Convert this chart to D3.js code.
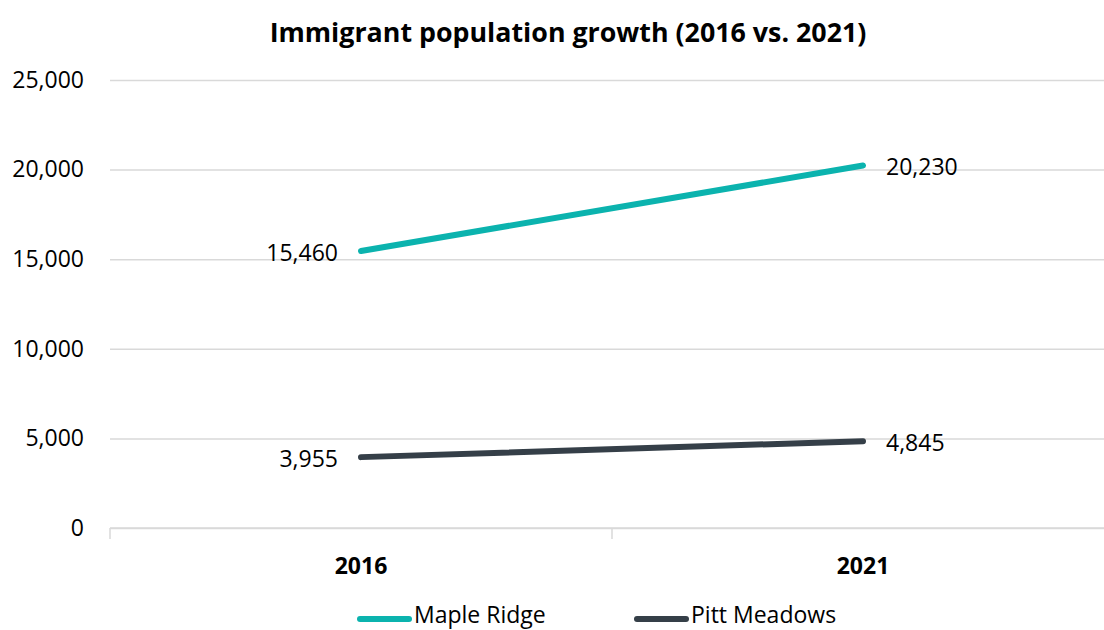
<!DOCTYPE html>
<html>
<head>
<meta charset="utf-8">
<script src="https://cdn.jsdelivr.net/npm/d3@7"></script>
<style>
  html, body { margin: 0; padding: 0; background: #fff; overflow: hidden; }
  svg { display: block; font-family: "Open Sans", "Noto Sans", sans-serif; }
</style>
</head>
<body>
<svg id="chart" width="1104" height="630"></svg>
<script>
// Immigrant population, 2016 and 2021
const years = ["2016", "2021"];
const seriesNames = ["Maple Ridge", "Pitt Meadows"];
const mapleRidge = [15460, 20230];
const pittMeadows = [3955, 4845];
const yTicks = [0, 5000, 10000, 15000, 20000, 25000];
const seriesColors = ["#0BB3AE", "#353F48"];

const title = "Immigrant population growth (2016 vs. 2021)";

const svg = d3.select("#chart");
const W = 1104, H = 630;
const plot = { left: 110, right: 1114, top: 80, bottom: 528 };

const x = d3.scaleBand().domain(years).range([plot.left, plot.right]);
const y = d3.scaleLinear().domain([0, 25000]).range([plot.bottom, plot.top]);
const fmt = d3.format(",");

// title
svg.append("text")
  .attr("x", 568).attr("y", 31)
  .attr("text-anchor", "middle").attr("dominant-baseline", "central")
  .attr("font-weight", "bold").attr("font-size", 26.8).attr("fill", "#000")
  .text(title);

// horizontal gridlines + y labels
const yAxis = d3.axisLeft(y).tickValues(yTicks).tickFormat(fmt)
  .tickSize(-(W - plot.left)).tickPadding(26);
const gy = svg.append("g").attr("transform", `translate(${plot.left},0)`).call(yAxis);
gy.select(".domain").remove();
gy.selectAll(".tick line").attr("stroke", "#d9d9d9").attr("stroke-width", 1.5);
gy.selectAll(".tick text")
  .attr("font-size", 23).attr("fill", "#000")
  .attr("font-family", "\"Open Sans\", sans-serif");

// category axis with band boundary ticks
const gx = svg.append("g").attr("transform", `translate(0,${plot.bottom})`);
gx.append("line")
  .attr("x1", plot.left).attr("x2", W)
  .attr("stroke", "#d9d9d9").attr("stroke-width", 1.5);
const boundaries = years.map(d => x(d)).concat([x(years[years.length - 1]) + x.bandwidth()]);
gx.selectAll("line.tk").data(boundaries).join("line").attr("class", "tk")
  .attr("x1", d => d).attr("x2", d => d).attr("y1", 0).attr("y2", 11)
  .attr("stroke", "#d9d9d9").attr("stroke-width", 1.5);
gx.selectAll("text.cat").data(years).join("text").attr("class", "cat")
  .attr("x", d => x(d) + x.bandwidth() / 2).attr("y", 37)
  .attr("text-anchor", "middle").attr("dominant-baseline", "central")
  .attr("font-weight", "bold").attr("font-size", 23).attr("fill", "#000")
  .text(d => d);

// lines
const series = [mapleRidge, pittMeadows];
const cx = d => x(d) + x.bandwidth() / 2;
const line = d3.line().x((v, i) => cx(years[i])).y(v => y(v));

series.forEach((vals, s) => {
  svg.append("path")
    .attr("d", line(vals))
    .attr("fill", "none")
    .attr("stroke", seriesColors[s])
    .attr("stroke-width", 6)
    .attr("stroke-linecap", "round");

  // value labels: left of first point, right of last point
  vals.forEach((v, i) => {
    const first = i === 0;
    svg.append("text")
      .attr("x", cx(years[i]) + (first ? -23 : 23))
      .attr("y", y(v) + 1)
      .attr("text-anchor", first ? "end" : "start")
      .attr("dominant-baseline", "central")
      .attr("font-size", 23).attr("fill", "#000")
      .text(fmt(v));
  });
});

// legend along the bottom edge
const legend = svg.append("g");
const legendItems = [
  { name: seriesNames[0], color: seriesColors[0], x0: 360 },
  { name: seriesNames[1], color: seriesColors[1], x0: 637 }
];
legendItems.forEach(it => {
  legend.append("line")
    .attr("x1", it.x0).attr("x2", it.x0 + 49)
    .attr("y1", 619).attr("y2", 619)
    .attr("stroke", it.color).attr("stroke-width", 6).attr("stroke-linecap", "round");
  legend.append("text")
    .attr("x", it.x0 + 54).attr("y", 623)
    .attr("font-size", 23).attr("fill", "#000")
    .text(it.name);
});
</script>
</body>
</html>
